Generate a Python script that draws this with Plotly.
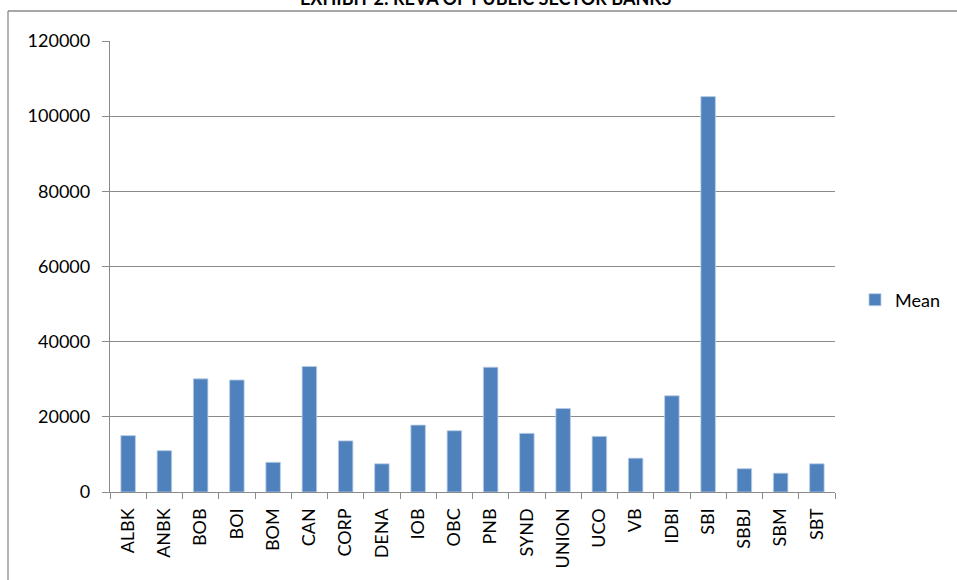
import plotly.graph_objects as go

banks = ["ALBK", "ANBK", "BOB", "BOI", "BOM", "CAN", "CORP", "DENA", "IOB", "OBC",
         "PNB", "SYND", "UNION", "UCO", "VB", "IDBI", "SBI", "SBBJ", "SBM", "SBT"]
mean_values = [15000, 11000, 30100, 29800, 7900, 33400, 13600, 7500, 17800, 16300,
               33200, 15600, 22200, 14800, 9000, 25600, 105200, 6200, 5000, 7500]
y_ticks = [0, 20000, 40000, 60000, 80000, 100000, 120000]
title_text = "EXHIBIT 2: REVA OF PUBLIC SECTOR BANKS"
series_name = "Mean"

W, H = 957, 580
L, R, T, B = 110, 122, 41, 88
pw, ph = W - L - R, H - T - B

def px_x(p):
    return (p - L) / pw

def px_y(p):
    return (H - B - p) / ph

FONT = "Lato, 'Open Sans', sans-serif"
GRID = "#8a8a8a"

fig = go.Figure()
fig.add_trace(go.Bar(
    x=banks, y=mean_values, name=series_name,
    marker=dict(color="#4F81BD", line=dict(color="#B9CDE5", width=0.8)),
    showlegend=True,
))

fig.update_layout(
    width=W, height=H,
    margin=dict(l=L, r=R, t=T, b=B, autoexpand=False),
    paper_bgcolor="white", plot_bgcolor="white",
    bargap=0.6,
    font=dict(family=FONT, size=18, color="#000000"),
    showlegend=True,
    legend=dict(x=px_x(855), y=px_y(300), xanchor="left", yanchor="middle",
                font=dict(size=18), bgcolor="rgba(0,0,0,0)",
                itemwidth=30, tracegroupgap=0),
    xaxis=dict(
        type="category", tickangle=-90, tickson="boundaries",
        ticks="outside", ticklen=6, tickcolor=GRID, tickwidth=1.3,
        showline=True, linecolor=GRID, linewidth=1.3,
        showgrid=False, tickfont=dict(size=18), ticklabelstandoff=8,
    ),
    yaxis=dict(
        range=[0, 120000], tickvals=y_ticks, ticktext=[str(v) for v in y_ticks],
        ticks="outside", ticklen=7, tickcolor=GRID, tickwidth=1.3,
        showline=True, linecolor=GRID, linewidth=1.3,
        showgrid=True, gridcolor=GRID, gridwidth=1.3,
        zeroline=False, tickfont=dict(size=18), ticklabelstandoff=8,
    ),
    shapes=[
        dict(type="line", xref="paper", yref="paper",
             x0=px_x(8), x1=px_x(957), y0=px_y(11), y1=px_y(11),
             line=dict(color=GRID, width=1.3)),
        dict(type="line", xref="paper", yref="paper",
             x0=px_x(8), x1=px_x(8), y0=px_y(11), y1=px_y(580),
             line=dict(color=GRID, width=1.3)),
    ],
    annotations=[
        dict(text="<b>" + title_text + "</b>", xref="paper", yref="paper",
             x=px_x(486), y=px_y(11), xanchor="center", yanchor="bottom",
             showarrow=False, font=dict(size=18, family=FONT)),
    ],
)

fig.write_html("out.html")
